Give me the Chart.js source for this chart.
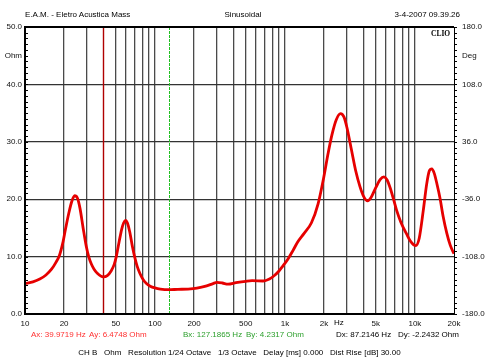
<!DOCTYPE html>
<html>
<head>
<meta charset="utf-8">
<script src="https://cdn.jsdelivr.net/npm/chart.js@4/dist/chart.umd.min.js"></script>
<style>
  html, body { margin: 0; padding: 0; background: #fff; }
  #wrap { position: relative; width: 485px; height: 358px; overflow: hidden;
          font-family: "Liberation Sans", Arial, sans-serif; font-size: 8px; line-height: 10px; color: #000; }
  #wrap canvas { position: absolute; left: 0; top: 0; }
  .t { position: absolute; white-space: pre; }
  .clio { font-family: "Liberation Serif", "DejaVu Serif", serif; font-weight: bold; font-size: 7.5px; }
  .ca { color: #ff3030; }
  .cb { color: #2ea02e; }
</style>
</head>
<body>
<div id="wrap">
  <canvas id="chart" width="485" height="358"></canvas>
  <div class="t" style="left:25px;top:10px">E.A.M. - Eletro Acustica Mass</div>
  <div class="t" style="left:0;width:486px;text-align:center;top:10px">Sinusoidal</div>
  <div class="t" style="right:25px;top:10px">3-4-2007 09.39.26</div>
  <div class="t clio" style="left:431px;top:29px">CLIO</div>
  <div class="t" style="left:334px;top:318px">Hz</div>
  <div class="t ca" id="ax" style="left:31px;top:330px"></div>
  <div class="t ca" id="ay" style="left:89px;top:330px"></div>
  <div class="t cb" id="bx" style="left:183px;top:330px"></div>
  <div class="t cb" id="by" style="left:246px;top:330px"></div>
  <div class="t" id="dx" style="left:336px;top:330px"></div>
  <div class="t" id="dy" style="left:398px;top:330px"></div>
  <div class="t" style="left:0;width:479px;text-align:center;top:348px">CH B   Ohm   Resolution 1/24 Octave   1/3 Octave   Delay [ms] 0.000   Dist Rise [dB] 30.00</div>
</div>
<script>
// Impedance magnitude sweep, 10 Hz - 20 kHz
const freqHz = [
  10, 11.5, 13, 14.5, 16, 17.3, 18.4, 19.5, 20.5, 21.7, 22.9, 24.1, 25.3, 26.5, 28, 29.6,
  31, 32.4, 34, 36, 39.9719, 43, 46, 48.5, 50.4, 53, 55.5, 57.5, 59.5, 61.5, 64, 67,
  69.7, 73, 76.5, 81, 86, 92, 100, 110, 127.1865, 150, 180, 210, 250, 280, 300, 330,
  365, 420, 500, 560, 680, 760, 830, 900, 960, 1050, 1150, 1250, 1400, 1600, 1800, 1970,
  2150, 2300, 2480, 2680, 2850, 3000, 3250, 3500, 3780, 4050, 4325, 4600, 5000, 5400, 5780, 6100,
  6450, 6850, 7250, 7800, 8650, 9300, 10140, 10800, 11600, 12300, 12900, 13500, 14100, 14800, 15600, 16500,
  17600, 18700, 20000
];
const impedanceOhm = [
  5.3, 5.6, 6.1, 6.8, 7.8, 9.0, 10.2, 12.3, 14.8, 17.5, 19.6, 20.6, 20.2, 18.4, 15.0, 11.8,
  9.9, 8.7, 7.8, 7.1, 6.4748, 6.7, 7.5, 8.6, 10.0, 12.6, 14.8, 15.9, 16.3, 15.8, 14.3, 11.8,
  10.0, 8.3, 7.1, 6.0, 5.3, 4.85, 4.55, 4.35, 4.2317, 4.3, 4.35, 4.5, 4.9, 5.3, 5.5, 5.4,
  5.2, 5.45, 5.7, 5.8, 5.75, 6.1, 6.7, 7.5, 8.3, 9.5, 11.0, 12.5, 14.0, 15.9, 19.2, 23.3,
  28.0, 31.2, 33.8, 34.9, 34.3, 32.5, 28.6, 25.0, 22.2, 20.4, 19.7, 20.3, 22.0, 23.4, 23.9, 23.4,
  22.0, 20.0, 18.0, 16.0, 13.9, 12.6, 11.9, 13.2, 18.0, 22.5, 24.9, 25.3, 24.5, 22.6, 20.2, 17.0,
  14.1, 12.0, 10.5
];

// Cursor readouts
const cursorA = { hz: 39.9719, ohm: 6.4748 };
const cursorB = { hz: 127.1865, ohm: 4.2317 };
const cursorDelta = { hz: 87.2146, ohm: -2.2432 };

// Axis grid and labels
const gridFreqs = [10, 20, 30, 40, 50, 60, 70, 80, 90, 100, 200, 300, 400, 500, 600, 700, 800, 900,
  1000, 2000, 3000, 4000, 5000, 6000, 7000, 8000, 9000, 10000, 20000];
const freqLabelValues = [10, 20, 50, 100, 200, 500, 1000, 2000, 5000, 10000, 20000];
const freqLabelTexts = ['10', '20', '50', '100', '200', '500', '1k', '2k', '5k', '10k', '20k'];
const ohmMajor = [0, 10, 20, 30, 40, 50];
const ohmUnitAt = 45;
const degMajor = [-180, -108, -36, 36, 108, 180];
const degUnitAt = 144;

document.getElementById('ax').textContent = 'Ax: ' + cursorA.hz.toFixed(4) + ' Hz';
document.getElementById('ay').textContent = 'Ay: ' + cursorA.ohm.toFixed(4) + ' Ohm';
document.getElementById('bx').textContent = 'Bx: ' + cursorB.hz.toFixed(4) + ' Hz';
document.getElementById('by').textContent = 'By: ' + cursorB.ohm.toFixed(4) + ' Ohm';
document.getElementById('dx').textContent = 'Dx: ' + cursorDelta.hz.toFixed(4) + ' Hz';
document.getElementById('dy').textContent = 'Dy: ' + cursorDelta.ohm.toFixed(4) + ' Ohm';

const points = freqHz.map((f, i) => ({ x: f, y: impedanceOhm[i] }));

const tickFont = { family: '"Liberation Sans", Arial, sans-serif', size: 8 };

// Frame, minor ticks and the two cursors
const framePlugin = {
  id: 'frame',
  beforeDatasetsDraw(chart) {
    const { ctx, chartArea: a, scales } = chart;
    ctx.save();
    const xa = Math.round(scales.x.getPixelForValue(cursorA.hz)) + 0.5;
    ctx.strokeStyle = '#b00000';
    ctx.lineWidth = 1.4;
    ctx.beginPath(); ctx.moveTo(xa, a.top); ctx.lineTo(xa, a.bottom); ctx.stroke();
    const xb = Math.round(scales.x.getPixelForValue(cursorB.hz)) + 0.5;
    ctx.strokeStyle = '#22c022';
    ctx.lineWidth = 1;
    ctx.setLineDash([3, 1]);
    ctx.beginPath(); ctx.moveTo(xb, a.top); ctx.lineTo(xb, a.bottom); ctx.stroke();
    ctx.restore();
  },
  afterDatasetsDraw(chart) {
    const { ctx, chartArea: a, scales } = chart;
    ctx.save();
    ctx.strokeStyle = '#000';
    ctx.lineWidth = 1;
    ctx.beginPath();
    scales.y.ticks.forEach(t => {
      const y = Math.round(scales.y.getPixelForValue(t.value)) + 0.5;
      ctx.moveTo(a.left, y); ctx.lineTo(a.left + 3, y);
    });
    scales.y2.ticks.forEach(t => {
      const y = Math.round(scales.y2.getPixelForValue(t.value)) + 0.5;
      ctx.moveTo(a.right, y); ctx.lineTo(a.right + 3, y);
    });
    ctx.stroke();
    ctx.lineWidth = 2;
    ctx.beginPath();
    ctx.moveTo(a.right, a.top); ctx.lineTo(a.left, a.top); ctx.lineTo(a.left, a.bottom); ctx.lineTo(a.right, a.bottom);
    ctx.stroke();
    ctx.lineWidth = 1;
    ctx.beginPath();
    ctx.moveTo(Math.round(a.right) + 0.5, a.top); ctx.lineTo(Math.round(a.right) + 0.5, a.bottom);
    ctx.stroke();
    ctx.restore();
  }
};

new Chart(document.getElementById('chart'), {
  type: 'line',
  data: {
    datasets: [{
      data: points,
      borderColor: '#e60000',
      borderWidth: 2.8,
      pointRadius: 0,
      cubicInterpolationMode: 'monotone',
      fill: false
    }]
  },
  options: {
    responsive: false,
    devicePixelRatio: 1,
    animation: false,
    events: [],
    layout: { padding: { top: 27, left: 0, right: 0, bottom: 0 } },
    plugins: { legend: { display: false }, tooltip: { enabled: false }, title: { display: false } },
    scales: {
      x: {
        type: 'logarithmic',
        min: 10, max: 20000,
        afterBuildTicks: s => { s.ticks = gridFreqs.map(v => ({ value: v })); },
        afterFit: s => { s.height = 44; },
        border: { display: false },
        grid: {
          drawTicks: false,
          lineWidth: 1.3,
          color: c => (c.tick && [10, 40, 20000].includes(c.tick.value)) ? 'rgba(0,0,0,0)' : '#4a4a4a'
        },
        ticks: {
          autoSkip: false, maxRotation: 0, minRotation: 0, padding: 5,
          color: '#111', font: tickFont,
          callback: v => { const i = freqLabelValues.indexOf(v); return i >= 0 ? freqLabelTexts[i] : ''; }
        }
      },
      y: {
        type: 'linear', position: 'left',
        min: 0, max: 50,
        afterBuildTicks: s => { const t = []; for (let v = 0; v <= 50; v++) t.push({ value: v }); s.ticks = t; },
        afterFit: s => { s.width = 25; },
        border: { display: false },
        grid: {
          drawTicks: false,
          lineWidth: 1.2,
          color: c => (c.tick && c.tick.value % 10 === 0 && c.tick.value !== 0 && c.tick.value !== 50) ? '#333' : 'rgba(0,0,0,0)'
        },
        ticks: {
          autoSkip: false, padding: 3, color: '#111', font: tickFont,
          callback: v => ohmMajor.includes(v) ? v.toFixed(1) : (v === ohmUnitAt ? 'Ohm' : '')
        }
      },
      y2: {
        type: 'linear', position: 'right',
        min: -180, max: 180,
        afterBuildTicks: s => { const t = []; for (let k = 0; k <= 50; k++) t.push({ value: Math.round((-180 + 7.2 * k) * 10) / 10 }); s.ticks = t; },
        afterFit: s => { s.width = 31; },
        border: { display: false },
        grid: { drawOnChartArea: false, drawTicks: false },
        ticks: {
          autoSkip: false, padding: 8, color: '#111', font: tickFont,
          callback: v => degMajor.includes(v) ? v.toFixed(1) : (v === degUnitAt ? 'Deg' : '')
        }
      }
    }
  },
  plugins: [framePlugin]
});
</script>
</body>
</html>
